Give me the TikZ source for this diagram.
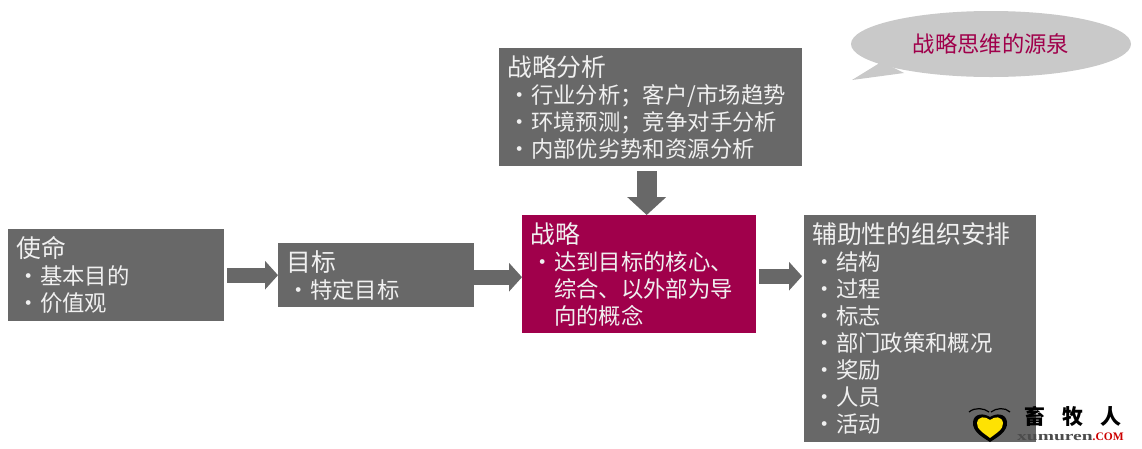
\documentclass[tikz,border=0pt]{standalone}
\usepackage{fontspec}
\usepackage{xcolor}
\setmainfont{Noto Sans CJK SC}
\newfontfamily\logofont{Liberation Serif}
\usetikzlibrary{arrows.meta,shapes.geometric}
\definecolor{boxgray}{HTML}{686868}
\definecolor{crimson}{HTML}{A0004B}
\definecolor{bubblegray}{HTML}{C9C9C9}
\newcommand{\headline}[1]{{\fontsize{24.8pt}{27pt}\selectfont #1}\\}
\newcommand{\bul}{\hspace*{1pt}\makebox[23pt][l]{•}}
\newcommand{\cont}{\hspace*{24pt}}
\tikzset{
  infobox/.style={fill=boxgray, text=white!94!black, anchor=north west, inner xsep=8pt, inner ysep=0pt,
    align=left, font=\fontsize{22.35pt}{27pt}\selectfont},
  hollowarrow/.style={draw=boxgray, line width=15pt, -{Triangle[length=13pt,width=28pt]}},
}
\begin{document}
\begin{tikzpicture}[x=1pt,y=-1pt]
\useasboundingbox (0,0) rectangle (1142,448);

% Speech bubble
\fill[bubblegray] (878,60) -- (878,64) -- (852,80) -- (904,73) -- cycle;
\node[ellipse, fill=bubblegray, minimum width=280pt, minimum height=66pt, inner sep=0pt,
  text=crimson, font=\fontsize{22.3pt}{26pt}\selectfont] (bubble) at (991,44) {战略思维的源泉};

% Boxes
\node[infobox, text width=200pt, minimum height=92pt] (mission) at (8,229)
  {\headline{使命}\bul 基本目的\\\bul 价值观};
\node[infobox, text width=180pt, minimum height=64pt] (goal) at (278,243)
  {\headline{目标}\bul 特定目标};
\node[infobox, text width=287pt, minimum height=118pt] (analysis) at (499,48)
  {\headline{战略分析}\bul 行业分析；客户/市场趋势\\\bul 环境预测；竞争对手分析\\\bul 内部优劣势和资源分析};
\node[infobox, fill=crimson, text width=218pt, minimum height=118pt] (strategy) at (522,215)
  {\headline{战略}\bul 达到目标的核心、\\\cont 综合、以外部为导\\\cont 向的概念};
\node[infobox, text width=216pt, minimum height=227pt] (support) at (804,215)
  {\headline{辅助性的组织安排}\bul 结构\\\bul 过程\\\bul 标志\\\bul 部门政策和概况\\\bul 奖励\\\bul 人员\\\bul 活动};

% Arrows
\draw[hollowarrow, shorten <=3pt] (mission.east) -- (mission.east -| goal.west);
\coordinate[yshift=-2pt] (goalout) at (goal.east);
\draw[hollowarrow] (goalout) -- (goalout -| strategy.west);
\coordinate[yshift=-2pt] (stratout) at (strategy.east);
\draw[hollowarrow, shorten <=3pt, shorten >=2pt] (stratout) -- (stratout -| support.west);
\coordinate[xshift=-4pt] (analysisout) at (analysis.south);
\draw[draw=boxgray, line width=20pt, shorten <=5pt, -{Triangle[length=18pt,width=38pt]}]
  (analysisout) -- (analysisout |- strategy.north);

% Watermark
\fill[black] (973,422) .. controls (974,413) and (984,413) .. (990,417)
  .. controls (996,413) and (1006,413) .. (1007,422)
  .. controls (1008,432) and (996,438) .. (990,442)
  .. controls (984,438) and (972,432) .. (973,422) -- cycle;
\fill[yellow!85!orange] (977,423) .. controls (978,416) and (985,416) .. (990,420)
  .. controls (995,416) and (1002,416) .. (1003,423)
  .. controls (1004,429) and (995,434) .. (990,438)
  .. controls (985,434) and (976,429) .. (977,423) -- cycle;
\draw[black, line width=1.2pt] (969,412) .. controls (975,407) and (984,408) .. (989,412);
\draw[black, line width=1.2pt] (991,412) .. controls (996,408) and (1005,407) .. (1010,412);
\node[inner sep=0pt, font=\fontsize{21pt}{21pt}\selectfont\bfseries] (brand) at (1073,416)
  {畜\hspace{17pt}牧\hspace{17pt}人};
\node[inner sep=0pt, anchor=west, font=\logofont\bfseries\fontsize{13pt}{13pt}\selectfont, text=black!70] (site) at (1017,437)
  {\scalebox{1.5}[1]{xumuren}\textcolor{red!80!black}{\fontsize{11.5pt}{13pt}\selectfont.COM}};
\end{tikzpicture}
\end{document}
